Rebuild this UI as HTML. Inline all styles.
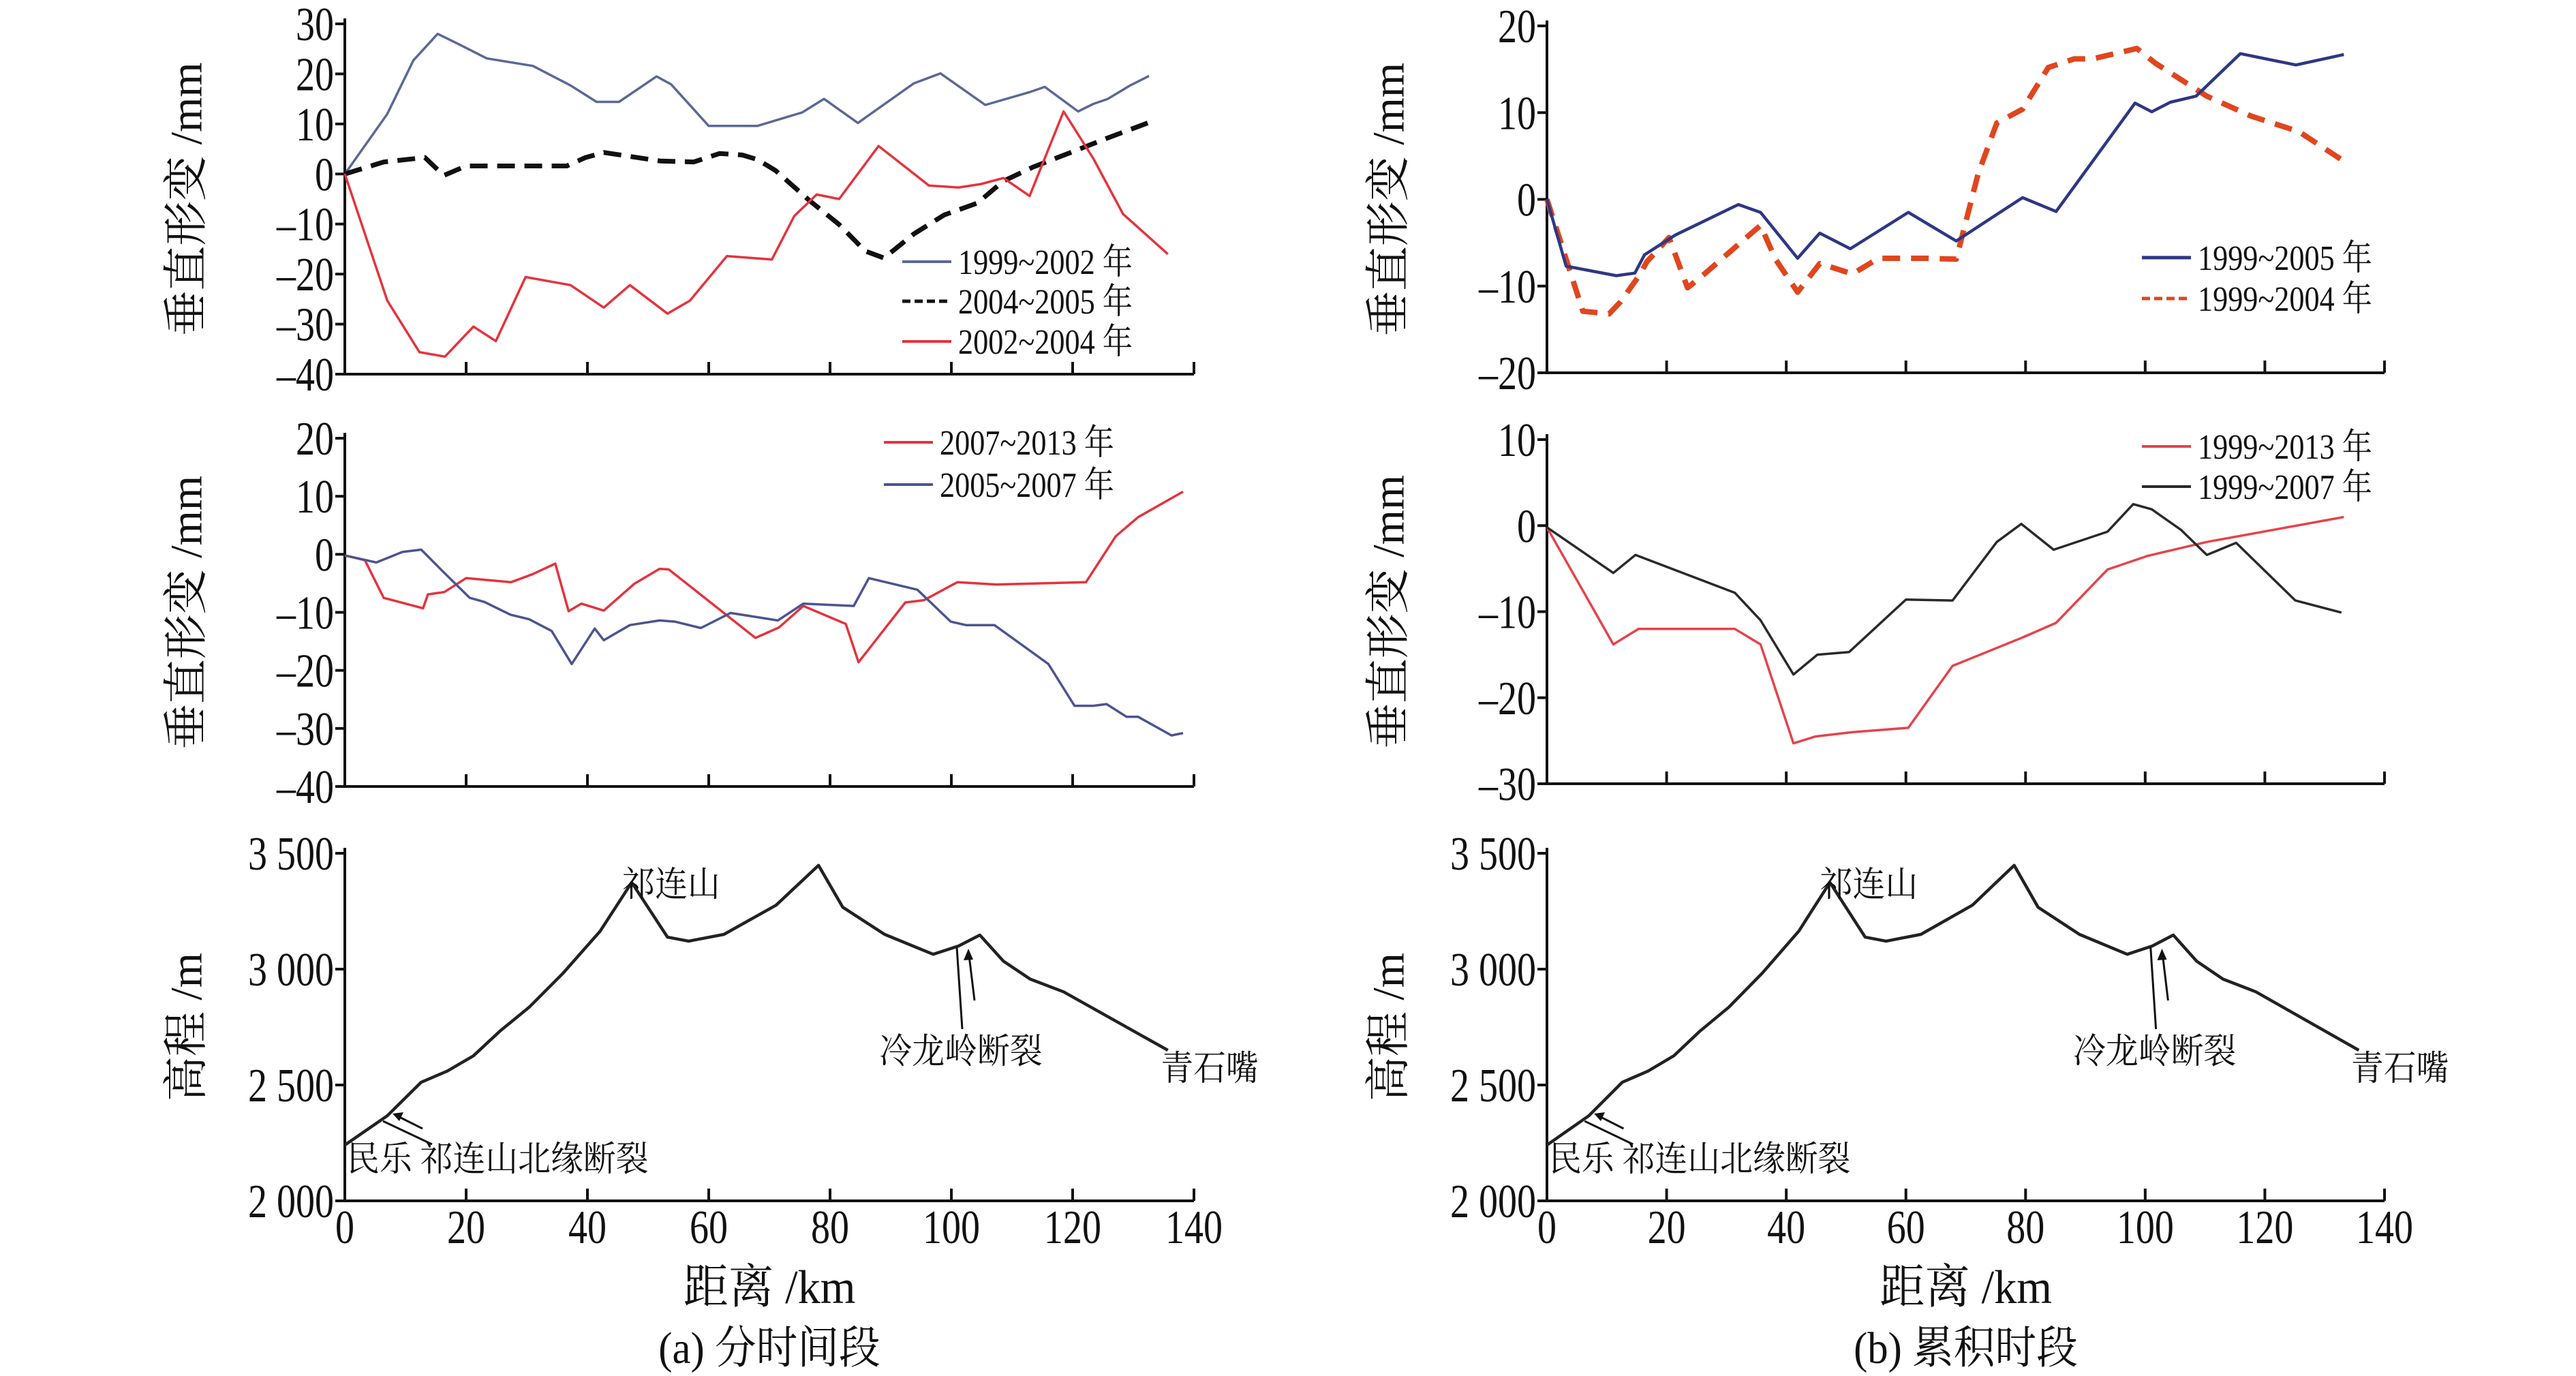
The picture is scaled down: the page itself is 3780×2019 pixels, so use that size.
<!DOCTYPE html>
<html><head><meta charset="utf-8"><style>
html,body{margin:0;padding:0;background:#fff}
svg{display:block}
text{font-family:"Liberation Serif","Noto Serif CJK SC",serif;fill:#111}
</style></head><body>
<svg id="c" width="3780" height="2019" viewBox="0 0 3780 2019" xmlns="http://www.w3.org/2000/svg"></svg>
<script>
// ---- data (km, value) ----
const km_a1_0999_02 = [0,7,11.3,15.3,18.7,23.4,31,37.2,41.5,45.2,51.4,53.8,60,68,75.4,79,84.6,93.8,98.2,105.6,113,115.4,120.9,123.4,125.8,129.5,132.6];
const val_a1_99_02 = [0,12,22.7,28,26,23.1,21.6,17.7,14.4,14.4,19.5,17.9,9.6,9.6,12.3,15,10.2,18.1,20.1,13.8,16.4,17.4,12.5,14,15,17.7,19.6];
const km_a1_04_05 = [0,6.4,13.2,16.3,20,31,36.6,39.7,42.7,52,57.5,61.8,65.5,68,71,76.6,81.5,85.8,88.9,93.8,98.8,104.3,108.6,113.5,119.7,125.8,132.6];
const val_a1_04_05 = [0,2.4,3.3,-0.3,1.6,1.6,1.6,3.3,4.3,2.6,2.4,4.1,3.8,2.9,0.7,-5.3,-10.1,-15.4,-16.8,-12,-8.2,-5.8,-1.4,1.4,4.3,7.2,10.3];
const km_a1_02_04 = [0,7,12.3,16.5,21.2,24.9,29.8,37.2,42.7,47,53.2,56.9,63,70.4,74.1,77.8,81.5,88,96.3,101.2,104.9,108.6,112.9,118.5,123.4,128.3,135.7];
const val_a1_02_04 = [0,-25.3,-35.6,-36.5,-30.5,-33.4,-20.6,-22.2,-26.7,-22.2,-27.9,-25.3,-16.4,-17.1,-8.4,-4.1,-5,5.6,-2.3,-2.7,-2,-0.8,-4.4,12.5,3.1,-8,-16];
const km_a2_07_13 = [0,3.3,6.4,12.9,13.7,16.4,20,27.4,31,34.7,36.9,39,42.7,47.7,51.9,53.4,67.7,71.6,75.6,82.6,84.7,92.4,95.5,101,107.4,122.2,127.1,130.8,138.2];
const val_a2_07_13 = [-0.2,-1,-7.5,-9.3,-6.9,-6.5,-4.1,-4.8,-3.4,-1.6,-9.8,-8.5,-9.7,-5.1,-2.5,-2.6,-14.4,-12.6,-8.9,-12,-18.6,-8.3,-7.9,-4.8,-5.2,-4.8,3.1,6.4,10.8];
const km_a2_05_07 = [0,5.2,9.5,12.6,16.3,20.6,23,27.3,30.4,34.1,37.4,41.2,42.7,47,51.9,54.4,58.7,63.6,71.4,75.6,83.9,86.4,94.4,99.9,102.4,107.1,116,120.3,123.4,125.6,128.9,130.8,136.3,138.2];
const val_a2_05_07 = [-0.2,-1.4,0.4,0.8,-3.1,-7.5,-8.2,-10.4,-11.2,-13.2,-18.9,-12.8,-14.8,-12.2,-11.4,-11.6,-12.7,-10.1,-11.4,-8.5,-8.9,-4.1,-6.1,-11.6,-12.2,-12.2,-18.9,-26.1,-26.1,-25.8,-28,-28,-31.2,-30.8];
const km_elev = [0,7,12.6,16.9,21.2,25.6,30.4,36,42.1,47.3,53.2,56.7,62.5,71.1,78.1,82.1,89,97,101.2,104.7,108.6,113,118.5,127.1,135.7];
const val_elev = [2241,2367,2512,2560,2626,2733,2836,2983,3164,3374,3138,3121,3150,3276,3448,3267,3150,3064,3100,3147,3034,2957,2902,2776,2650];
const km_b1_99_05 = [0,3.2,11.6,14.7,16.3,21.5,32,35.7,41.9,45.6,50.7,60.4,68.4,79.5,85.1,98.3,101.1,104.2,108.5,115.9,125.2,133.2];
const val_b1_99_05 = [0,-7.7,-8.8,-8.5,-6.4,-4.1,-0.6,-1.5,-6.8,-3.9,-5.7,-1.5,-4.8,0.2,-1.4,11.1,10.1,11.2,11.9,16.8,15.5,16.7];
const km_b1_99_04 = [0,6,10.4,12.3,15.4,16.7,20.4,23.5,26.5,32,35.7,38.2,41.9,45.6,51.1,55.4,63.5,68.4,72.1,75.2,79.5,83.8,88.1,91.2,98.6,101.7,110.3,117.7,125.7,133.2];
const val_b1_99_04 = [0,-12.9,-13.2,-11.8,-8.8,-7.2,-4.4,-10.2,-8.5,-5.2,-3,-6.9,-10.7,-7.4,-8.6,-6.8,-6.8,-6.9,3,8.8,10.4,15.2,16.2,16.2,17.4,15.7,11.9,9.6,7.8,4.4];
const km_b2_99_13 = [0,11.1,15.3,31.4,35.7,41.2,44.9,51.1,60.4,67.8,79.5,85.1,93.7,100.5,110.3,133.2];
const val_b2_99_13 = [-0.2,-13.8,-12,-12,-13.8,-25.3,-24.5,-24,-23.5,-16.3,-13,-11.3,-5.1,-3.5,-1.9,1];
const km_b2_99_07 = [0,11.1,14.8,31.4,35.7,41.2,45.2,50.5,60,67.8,75.2,79.3,84.7,93.7,98,101.1,106,110.3,115.2,125.1,132.8];
const val_b2_99_07 = [-0.2,-5.5,-3.4,-7.8,-11,-17.3,-15,-14.7,-8.6,-8.7,-1.9,0.2,-2.8,-0.7,2.5,1.9,-0.5,-3.4,-2,-8.7,-10.1];
const xTicks = [0,20,40,60,80,100,120,140];
const yTicksA1 = [30,20,10,0,-10,-20,-30,-40];
const yTicksA2 = [20,10,0,-10,-20,-30,-40];
const yTicksB1 = [20,10,0,-10,-20];
const yTicksB2 = [10,0,-10,-20,-30];
const yTicksElev = [3500,3000,2500,2000];
const elevLabels = ["3 500","3 000","2 500","2 000"];

const NS="http://www.w3.org/2000/svg";
const svg=document.getElementById('c');
function mk(tag,attrs,parent){const e=document.createElementNS(NS,tag);for(const k in attrs)e.setAttribute(k,attrs[k]);(parent||svg).appendChild(e);return e;}
function txt(s,x,y,size,anchor,parent,sx){
  const t=mk('text',{x:0,y:0,'font-size':size,'text-anchor':anchor||'middle',transform:`translate(${x},${y}) scale(${sx||1},1)`},parent);
  t.textContent=s;return t;}

function panel(name,x0,x1,yTop,yBot,vTop,vBot,ticks,labels,showX,ylabel){
  const g=mk('g',{});
  
  
  const sx=v=>x0+(v/140)*(x1-x0);
  const sy=v=>yTop+(vTop-v)/(vTop-vBot)*(yBot-yTop);
  const ax=mk('path',{d:`M${x0},${yTop-8} L${x0},${yBot} L${x1},${yBot}`,stroke:'#111','stroke-width':4,fill:'none'},g);
  
  
  ticks.forEach((t,i)=>{
    mk('line',{x1:x0-14,x2:x0,y1:sy(t),y2:sy(t),stroke:'#111','stroke-width':4},g);
    const l=txt(labels?labels[i]:(t<0?'\u2013'+(-t):String(t)),x0-16,sy(t)+24,70,'end',g,0.8);
    
    
  });
  xTicks.forEach(t=>{
    mk('line',{x1:sx(t),x2:sx(t),y1:yBot-18,y2:yBot,stroke:'#111','stroke-width':4},g);
    if(showX){const l=txt(String(t),sx(t),yBot+62,70,'middle',g,0.8);
      
      }
  });
  const cy=(yTop+yBot)/2, lx=x0-232;
  const yl=mk('text',{x:lx,y:cy,'font-size':66,'text-anchor':'middle','dominant-baseline':'central',transform:`rotate(-90 ${lx} ${cy})`},g);
  yl.textContent=ylabel;
  
  
  return {g,sx,sy};
}
function series(p,name,xs,ys,color,w,dash){
  const d=xs.map((x,i)=>(i?'L':'M')+p.sx(x).toFixed(1)+','+p.sy(ys[i]).toFixed(1)).join(' ');
  const e=mk('path',{d:d,stroke:color,'stroke-width':w,fill:'none','stroke-linejoin':'round'},p.g);
  if(dash)e.setAttribute('stroke-dasharray',dash);
  
  
}
function legend(p,name,x,y,color,w,dash,label){
  const g=mk('g',{},p.g);
  
  
  const l=mk('line',{x1:x,x2:x+72,y1:y,y2:y,stroke:color,'stroke-width':w},g);
  if(dash)l.setAttribute('stroke-dasharray',dash);
  txt(label,x+82,y+18,52,'start',g,0.85);
}

const XL0=506,XL1=1752,XR0=2270,XR1=3499;
const a1=panel('panel-a-top',XL0,XL1,35,549,30,-40,yTicksA1,null,false,'垂直形变 /mm');
series(a1,'line-1999-2002',km_a1_0999_02,val_a1_99_02,'#5b6896',3.5);
series(a1,'line-2004-2005',km_a1_04_05,val_a1_04_05,'#111',7,'26 14');
series(a1,'line-2002-2004',km_a1_02_04,val_a1_02_04,'#e5333d',3.5);
legend(a1,'legend-1999-2002',1324,384,'#5b6896',4,null,'1999~2002 年');
legend(a1,'legend-2004-2005',1324,442,'#111',5,'12 6','2004~2005 年');
legend(a1,'legend-2002-2004',1324,501,'#e5333d',4,null,'2002~2004 年');

const a2=panel('panel-a-middle',XL0,XL1,643,1154,20,-40,yTicksA2,null,false,'垂直形变 /mm');
series(a2,'line-2007-2013',km_a2_07_13,val_a2_07_13,'#e5333d',3.5);
series(a2,'line-2005-2007',km_a2_05_07,val_a2_05_07,'#4c5490',3.5);
legend(a2,'legend-2007-2013',1297,649,'#e5333d',4,null,'2007~2013 年');
legend(a2,'legend-2005-2007',1297,711,'#4c5490',4,null,'2005~2007 年');

function elevPanel(name,x0,x1,cap){
  const p=panel(name,x0,x1,1252,1762,3500,2000,yTicksElev,elevLabels,true,'高程 /m');
  series(p,'elevation-profile',km_elev,val_elev,'#222',4.5);
  const s=(x1-x0)/1246;
  const X=v=>x0+(v-506)*s;
  const ann=[['祁连山',985,1315],['冷龙岭断裂',1410,1560],['青石嘴',1775,1585],['民乐 祁连山北缘断裂',509,1718]];
  ann.forEach(a=>{const t=txt(a[0],X(a[1]),a[2],52,a[0].startsWith('民')?'start':'middle',p.g,0.92);
    
    });
  mk('line',{x1:X(562),y1:1645,x2:X(634),y2:1679,stroke:'#111','stroke-width':3},p.g);
  mk('line',{x1:X(620),y1:1656,x2:X(584),y2:1638,stroke:'#111','stroke-width':3},p.g);
  mk('path',{d:`M${X(576)},1634 l16,-2 l-6,13 z`,fill:'#111'},p.g);
  mk('line',{x1:X(1404),y1:1390,x2:X(1412),y2:1510,stroke:'#111','stroke-width':3},p.g);
  mk('line',{x1:X(1430),y1:1468,x2:X(1422),y2:1402,stroke:'#111','stroke-width':3},p.g);
  mk('path',{d:`M${X(1421)},1392 l-7,17 l14,-1 z`,fill:'#111'},p.g);
  const xl=txt('距离 /km',(x0+x1)/2,1912,70,'middle',p.g,0.95);
  
  
  const c=txt(cap,(x0+x1)/2,2000,66,'middle',p.g,0.92);
  
  
}
elevPanel('panel-a-elevation',XL0,XL1,'(a) 分时间段');

const b1=panel('panel-b-top',XR0,XR1,38,547,20,-20,yTicksB1,null,false,'垂直形变 /mm');
series(b1,'line-1999-2004',km_b1_99_04,val_b1_99_04,'#e0461e',8,'26 16');
series(b1,'line-1999-2005',km_b1_99_05,val_b1_99_05,'#2e3784',4.5);
legend(b1,'legend-1999-2005',3143,378,'#2e3784',5,null,'1999~2005 年');
legend(b1,'legend-1999-2004',3143,438,'#e0461e',5,'12 6','1999~2004 年');

const b2=panel('panel-b-middle',XR0,XR1,645,1150,10,-30,yTicksB2,null,false,'垂直形变 /mm');
series(b2,'line-1999-2013',km_b2_99_13,val_b2_99_13,'#e5434b',3.5);
series(b2,'line-1999-2007',km_b2_99_07,val_b2_99_07,'#2a2a2a',3.5);
legend(b2,'legend-1999-2013',3143,655,'#e5434b',4,null,'1999~2013 年');
legend(b2,'legend-1999-2007',3143,714,'#2a2a2a',4,null,'1999~2007 年');

elevPanel('panel-b-elevation',XR0,XR1,'(b) 累积时段');
</script>
</body></html>
